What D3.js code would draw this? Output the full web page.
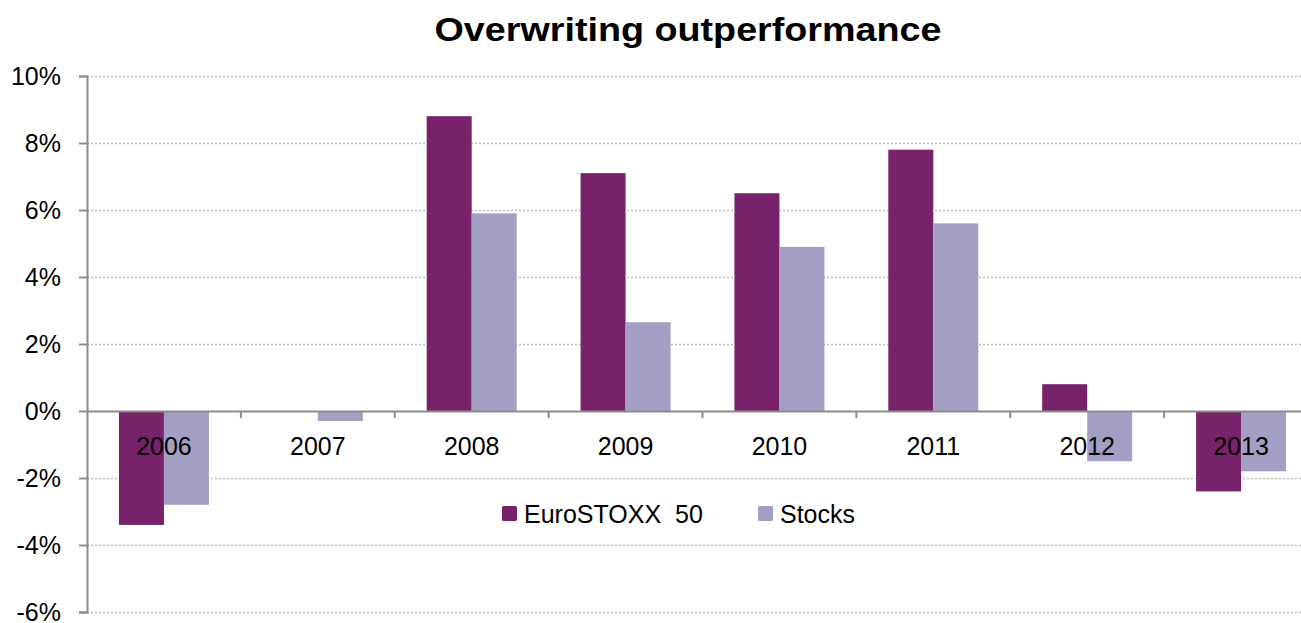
<!DOCTYPE html>
<html>
<head>
<meta charset="utf-8">
<script src="https://cdn.jsdelivr.net/npm/d3@7"></script>
<style>
  body { margin: 0; background: #fff; }
  svg { display: block; font-family: "Liberation Sans", Arial, sans-serif; }
</style>
</head>
<body>
<div id="wrapper"></div>
<script>
const years = ["2006", "2007", "2008", "2009", "2010", "2011", "2012", "2013"];
const seriesNames = ["EuroSTOXX  50", "Stocks"];
const euroStoxx = [-3.4, 0.0, 8.8, 7.1, 6.5, 7.8, 0.8, -2.4];
const stocks = [-2.8, -0.3, 5.9, 2.65, 4.9, 5.6, -1.5, -1.8];
const yTicks = [-6, -4, -2, 0, 2, 4, 6, 8, 10];
const colors = ["#77226a", "#a39fc4"];

const width = 1301, height = 623;
const margin = { top: 76, right: -17, bottom: 11, left: 87 };
const boundedW = width - margin.left - margin.right;
const boundedH = height - margin.top - margin.bottom;

const svg = d3.select("#wrapper").append("svg")
  .attr("width", width)
  .attr("height", height);

svg.append("text")
  .attr("x", 688)
  .attr("y", 41)
  .attr("text-anchor", "middle")
  .attr("font-size", 34)
  .attr("font-weight", "bold")
  .attr("textLength", 507)
  .attr("lengthAdjust", "spacingAndGlyphs")
  .text("Overwriting outperformance");

const bounds = svg.append("g")
  .attr("transform", `translate(${margin.left},${margin.top})`);

const xScale = d3.scaleBand()
  .domain(years)
  .range([0, boundedW]);

const xInner = d3.scaleBand()
  .domain(seriesNames)
  .range([0, xScale.bandwidth()])
  .paddingInner(0)
  .paddingOuter(0.71);

const yScale = d3.scaleLinear()
  .domain([-6, 10])
  .range([boundedH, 0]);

// gridlines
bounds.append("g")
  .selectAll("line")
  .data(yTicks.filter(d => d !== 0))
  .join("line")
    .attr("x1", 0)
    .attr("x2", boundedW)
    .attr("y1", d => Math.round(yScale(d)) + 0.5)
    .attr("y2", d => Math.round(yScale(d)) + 0.5)
    .attr("stroke", "#bdbdbd")
    .attr("stroke-width", 1.3)
    .attr("stroke-dasharray", "2,2");

// bars
const rows = years.map((y, i) => ({ year: y, values: [euroStoxx[i], stocks[i]] }));
const groups = bounds.selectAll(".grp")
  .data(rows)
  .join("g")
    .attr("class", "grp")
    .attr("transform", d => `translate(${xScale(d.year)},0)`);

groups.selectAll("rect")
  .data(d => d.values.map((v, j) => ({ name: seriesNames[j], v: v, j: j })))
  .join("rect")
    .attr("x", d => xInner(d.name))
    .attr("width", xInner.bandwidth())
    .attr("y", d => yScale(Math.max(0, d.v)))
    .attr("height", d => Math.abs(yScale(d.v) - yScale(0)))
    .attr("fill", d => colors[d.j]);

// zero axis with category labels
const xAxis = bounds.append("g")
  .attr("transform", `translate(0,${yScale(0)})`)
  .call(d3.axisBottom(xScale).tickSize(0).tickPadding(26));
xAxis.select(".domain").attr("stroke", "#8c8c8c").attr("stroke-width", 2);
xAxis.selectAll("text")
  .attr("font-size", 25)
  .attr("font-family", "Liberation Sans, Arial, sans-serif")
  .attr("fill", "#000");

// category boundary ticks
bounds.append("g")
  .selectAll("line")
  .data(years.slice(1))
  .join("line")
    .attr("x1", d => xScale(d))
    .attr("x2", d => xScale(d))
    .attr("y1", yScale(0))
    .attr("y2", yScale(0) + 7)
    .attr("stroke", "#8c8c8c")
    .attr("stroke-width", 2);

// y axis
const yAxis = bounds.append("g")
  .call(d3.axisLeft(yScale)
    .tickValues(yTicks)
    .tickSize(8)
    .tickPadding(18)
    .tickFormat(d => d + "%"));
yAxis.select(".domain").attr("stroke", "#8c8c8c").attr("stroke-width", 2);
yAxis.selectAll(".tick line").attr("stroke", "#8c8c8c").attr("stroke-width", 2);
yAxis.selectAll("text")
  .attr("font-size", 25)
  .attr("font-family", "Liberation Sans, Arial, sans-serif")
  .attr("fill", "#000");

// legend
const legendItems = [
  { name: seriesNames[0], x: 502 },
  { name: seriesNames[1], x: 758 }
];
const legend = svg.append("g");
legend.selectAll("rect")
  .data(legendItems)
  .join("rect")
    .attr("x", d => d.x)
    .attr("y", 506)
    .attr("width", 15)
    .attr("height", 15)
    .attr("rx", 1.5)
    .attr("fill", (d, i) => colors[i]);
legend.selectAll("text")
  .data(legendItems)
  .join("text")
    .attr("x", d => d.x + 22)
    .attr("y", 523)
    .attr("font-size", 25)
    .attr("xml:space", "preserve")
    .text(d => d.name);
</script>
</body>
</html>
